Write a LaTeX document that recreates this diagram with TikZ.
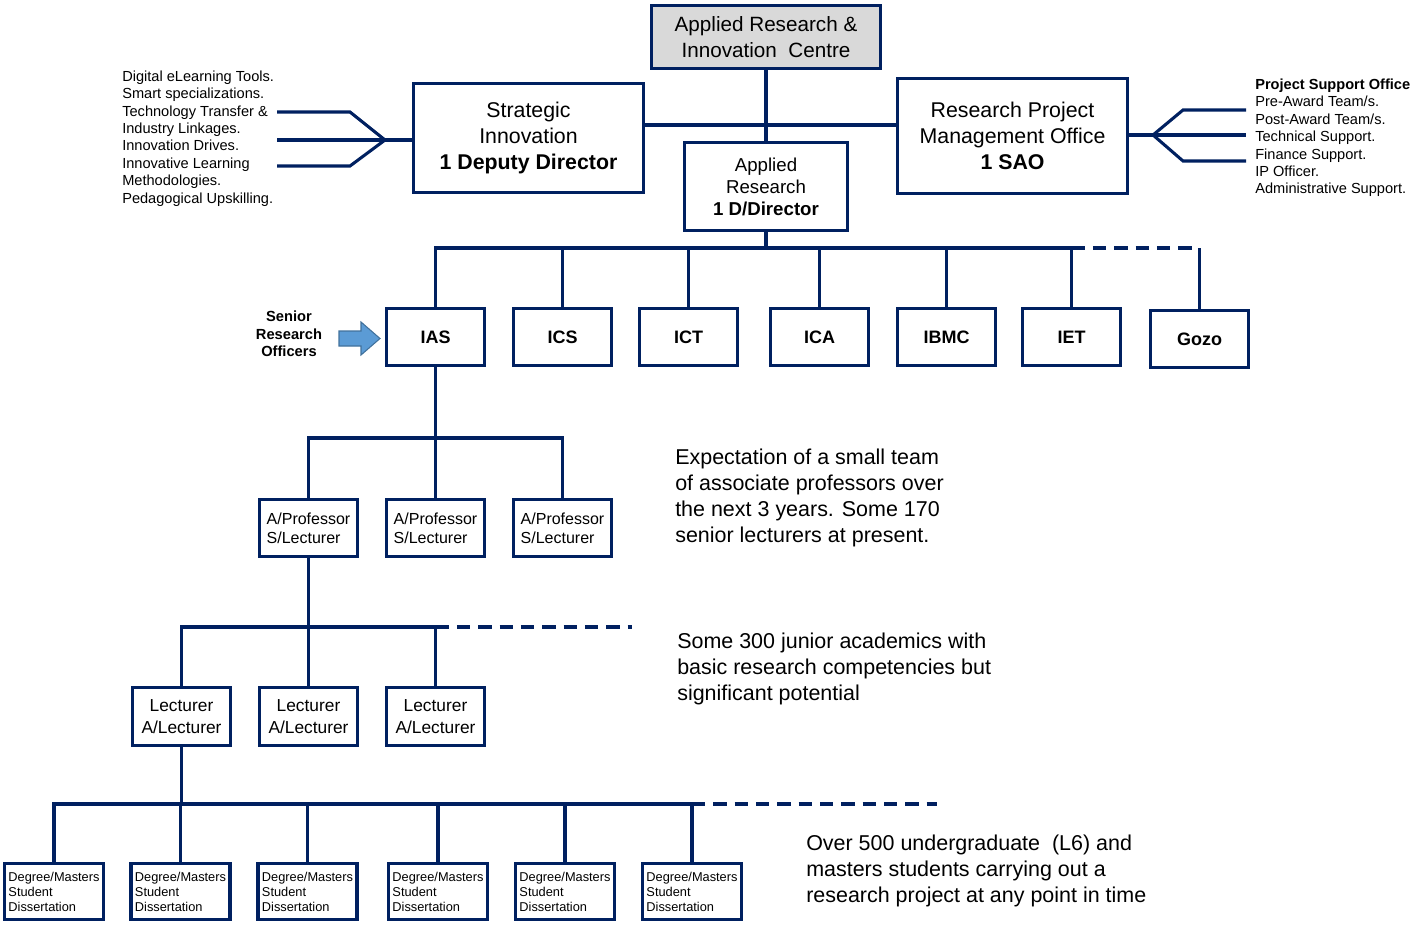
\documentclass[tikz,border=0pt]{standalone}
\usepackage{fontspec}
\setmainfont{Liberation Sans}
\definecolor{navy}{RGB}{0,32,96}
\definecolor{boxgray}{RGB}{217,217,217}
\definecolor{arrowblue}{RGB}{91,155,213}
\definecolor{arrowedge}{RGB}{65,113,156}
\newcommand\fsz[2]{\fontsize{#1}{#2}\selectfont}
\begin{document}
\begin{tikzpicture}[x=0.75pt,y=-0.75pt,
  box/.style={draw=navy,line width=2.3pt,fill=white,inner sep=0pt,align=center,text=black},
  sz/.style 2 args={minimum width=#1*0.75pt,minimum height=#2*0.75pt},
  conn/.style={draw=navy,line width=2.3pt},
  dconn/.style={conn,dash pattern=on 10pt off 6pt},
  rowbox/.style={box,sz={98}{57},font=\fsz{13.5}{16}\bfseries},
  apbox/.style={box,sz={98}{57},font=\fsz{12}{14.25},align=left},
  lcbox/.style={box,sz={98}{58},font=\fsz{13}{16.5}},
  dgbox/.style={box,sz={99}{56},font=\fsz{9.6}{11.25},align=left},
  note/.style={anchor=west,align=left,inner sep=0pt,font=\fsz{16.1}{19.4}},
  list/.style={anchor=west,align=left,inner sep=0pt,font=\fsz{10.95}{13.05}}]
\useasboundingbox (0,0) rectangle (1416,924);

% top nodes
\node[box,fill=boxgray,sz={229}{63},font=\fsz{15.5}{19.5}] (aric) at (766,37) {Applied Research \&\\Innovation\ \ Centre};
\node[box,sz={230}{109},font=\fsz{16}{19.5}] (si) at (528.5,138) {Strategic\\Innovation\\\textbf{1 Deputy Director}};
\node[box,sz={230}{115},font=\fsz{16}{19.5}] (rpmo) at (1012.5,136) {Research Project\\Management Office\\\textbf{1 SAO}};
\node[box,sz={163}{88},font=\fsz{14}{16.5}] (ar) at (766,186.5) {Applied\\Research\\\textbf{1 D/Director}};

\coordinate (h1) at (766,125);
\draw[conn] (aric.south) -- (ar.north);
\draw[conn] (si.east |- h1) -- (rpmo.west |- h1);

% side lists
\node[list] (ltext) at (122,138.5) {Digital eLearning Tools.\\Smart specializations.\\Technology Transfer \&\\Industry Linkages.\\Innovation Drives.\\Innovative Learning\\Methodologies.\\Pedagogical Upskilling.};
\node[list] (rtext) at (1255,138) {\textbf{Project Support Office}\\Pre-Award Team/s.\\Post-Award Team/s.\\Technical Support.\\Finance Support.\\IP Officer.\\Administrative Support.};

\coordinate (lapex) at (385,140);
\coordinate (lt) at (350,112); \coordinate (lb) at (350,166);
\coordinate (lt0) at (277,112); \coordinate (lm0) at (277,140); \coordinate (lb0) at (277,166);
\draw[conn] (lt0) -- (lt) -- (lapex);
\draw[conn] (lb0) -- (lb) -- (lapex);
\draw[conn] (lm0) -- (si.west |- lm0);

\coordinate (rapex) at (1153,135);
\coordinate (rt) at (1183,110); \coordinate (rb) at (1183,161);
\coordinate (rt0) at (1246,110); \coordinate (rm0) at (1246,135); \coordinate (rb0) at (1246,161);
\draw[conn] (rpmo.east |- rapex) -- (rm0);
\draw[conn] (rapex) -- (rt) -- (rt0);
\draw[conn] (rapex) -- (rb) -- (rb0);

% institute row
\node[rowbox] (ias) at (435.5,337) {IAS};
\node[rowbox] (ics) at (562.5,337) {ICS};
\node[rowbox] (ict) at (688.5,337) {ICT};
\node[rowbox] (ica) at (819.5,337) {ICA};
\node[rowbox] (ibmc) at (946.5,337) {IBMC};
\node[rowbox] (iet) at (1071.5,337) {IET};
\node[rowbox] (gozo) at (1199.5,339) {Gozo};

\coordinate (b1) at (766,248);
\draw[conn] (ar.south) -- (b1);
\draw[conn] (ias.north) -- (ias.north |- b1) -- (iet.north |- b1) -- (iet.north);
\foreach \n in {ics,ict,ica,ibmc} \draw[conn] (\n.north) -- (\n.north |- b1);
\draw[dconn] (iet.north |- b1) -- (gozo.north |- b1);
\draw[conn] (gozo.north |- b1) -- (gozo.north);

% senior research officers
\node[align=center,font=\fsz{11}{13.1}\bfseries,inner sep=0pt] (sro) at (289,334) {Senior\\Research\\Officers};
\draw[fill=arrowblue,draw=arrowedge,line width=0.8pt] (339,331) -- (361,331) -- (361,322) -- (380,338.5) -- (361,355) -- (361,346) -- (339,346) -- cycle;

% associate professors
\node[apbox] (ap1) at (308.5,528) {A/Professor\\S/Lecturer};
\node[apbox] (ap2) at (435.5,528) {A/Professor\\S/Lecturer};
\node[apbox] (ap3) at (562.5,528) {A/Professor\\S/Lecturer};
\coordinate (b2) at (436,438);
\draw[conn] (ias.south) -- (ias.south |- b2);
\draw[conn] (ap1.north) -- (ap1.north |- b2) -- (ap3.north |- b2) -- (ap3.north);
\draw[conn] (ap2.north) -- (ap2.north |- b2);

% lecturers
\node[lcbox] (lc1) at (181.5,716.5) {Lecturer\\A/Lecturer};
\node[lcbox] (lc2) at (308.5,716.5) {Lecturer\\A/Lecturer};
\node[lcbox] (lc3) at (435.5,716.5) {Lecturer\\A/Lecturer};
\coordinate (b3) at (308,627);
\coordinate (d3) at (632,627);
\draw[conn] (ap1.south) -- (ap1.south |- b3);
\draw[conn] (lc1.north) -- (lc1.north |- b3) -- (lc3.north |- b3) -- (lc3.north);
\draw[conn] (lc2.north) -- (lc2.north |- b3);
\draw[dconn] (lc3.north |- b3) -- (d3);

% students
\node[dgbox] (dg1) at (54,891.5) {Degree/Masters\\Student\\Dissertation};
\node[dgbox] (dg2) at (180.5,891.5) {Degree/Masters\\Student\\Dissertation};
\node[dgbox] (dg3) at (307.5,891.5) {Degree/Masters\\Student\\Dissertation};
\node[dgbox] (dg4) at (438,891.5) {Degree/Masters\\Student\\Dissertation};
\node[dgbox] (dg5) at (565,891.5) {Degree/Masters\\Student\\Dissertation};
\node[dgbox] (dg6) at (692,891.5) {Degree/Masters\\Student\\Dissertation};
\coordinate (b4) at (182,804);
\coordinate (d4) at (937,804);
\draw[conn] (lc1.south) -- (lc1.south |- b4);
\draw[conn] (dg1.north) -- (dg1.north |- b4) -- (dg6.north |- b4) -- (dg6.north);
\foreach \n in {dg2,dg3,dg4,dg5} \draw[conn] (\n.north) -- (\n.north |- b4);
\draw[dconn] (dg6.north |- b4) -- (d4);

% notes
\node[note] (n1) at (675,498) {Expectation of a small team\\of associate professors over\\the next 3 years. Some 170\\senior lecturers at present.};
\node[note] (n2) at (677,669) {Some 300 junior academics with\\basic research competencies but\\significant potential};
\node[note] (n3) at (806,871) {Over 500 undergraduate\ \ (L6) and\\masters students carrying out a\\research project at any point in time};
\end{tikzpicture}
\end{document}
